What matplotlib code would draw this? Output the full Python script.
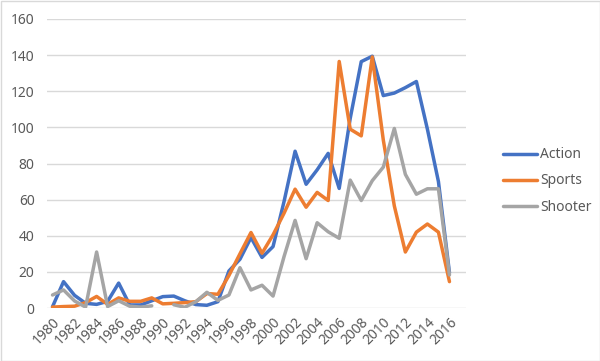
import numpy as np
import matplotlib
matplotlib.use("Agg")
import matplotlib.pyplot as plt
from matplotlib.patches import Rectangle

plt.rcParams['font.family'] = ['Noto Sans', 'DejaVu Sans']

nan = np.nan
years = list(range(1980, 2018))

action = [0.7, 14.6, 7.0, 2.6, 2.0, 3.7, 13.8, 1.7, 1.7, 4.0, 6.3, 6.6, 4.0, 1.9, 1.5, 3.5,
          20.5, 27.0, 39.0, 28.0, 34.0, 59.0, 86.8, 68.5, 76.5, 85.6, 66.2, 105.0, 136.4, 139.4,
          117.6, 119.0, 122.0, 125.4, 99.0, 70.0, 19.5, nan]
sports = [0.5, 0.8, 1.0, 3.0, 6.4, 2.0, 5.6, 3.7, 3.7, 5.6, 2.3, 2.6, 3.0, 3.5, 8.0, 7.6,
          18.0, 30.0, 41.8, 30.3, 40.5, 52.5, 65.8, 55.8, 64.0, 59.5, 136.5, 99.0, 95.3, 139.0,
          93.0, 56.5, 31.0, 42.0, 46.5, 42.0, 14.6, nan]
shooter = [7.2, 10.0, 3.9, 0.5, 31.0, 0.8, 4.0, 1.0, 0.5, 1.2, nan, 1.8, 0.4, 3.5, 8.7, 4.2,
           7.2, 22.3, 10.0, 12.6, 6.6, 28.5, 48.5, 27.3, 47.2, 42.2, 38.6, 70.8, 59.5, 70.5,
           78.0, 99.4, 74.0, 63.0, 66.0, 66.0, 18.3, nan]

series = [("Action", action, "#4472C4"),
          ("Sports", sports, "#ED7D31"),
          ("Shooter", shooter, "#A5A5A5")]

fig = plt.figure(figsize=(6, 3.61), dpi=100)
ax = fig.add_axes([47 / 600, 53 / 361, 419 / 600, 289 / 361])

x = np.arange(len(years))
for name, vals, col in series:
    ax.plot(x, vals, color=col, lw=2.5, label=name, solid_capstyle='round',
            solid_joinstyle='round')

ax.set_xlim(-0.5, len(years) - 0.5)
ax.set_ylim(0, 160)
ax.set_yticks(range(0, 161, 20))
ax.yaxis.grid(True, color="#D9D9D9", lw=1)
ax.set_axisbelow(True)
for s in ax.spines.values():
    s.set_visible(False)

ax.set_xticks(x[::2])
ax.set_xticklabels([str(y) for y in years[::2]], rotation=45, ha='right', va='top',
                   rotation_mode='anchor')
ax.tick_params(axis='both', length=0, labelsize=10, labelcolor="#595959")
ax.tick_params(axis='y', pad=9)
ax.tick_params(axis='x', pad=5)

leg = fig.legend(loc='center left', bbox_to_anchor=(490 / 600, 1 - 181 / 361), frameon=False,
                 fontsize=10, handlelength=2.5, handletextpad=0.2, labelspacing=0.8)
for t in leg.get_texts():
    t.set_color("#595959")

fig.patches.append(Rectangle((0.5 / 600, 0.5 / 361), 1 - 1 / 600, 1 - 1 / 361,
                             transform=fig.transFigure, fill=False, edgecolor="#D9D9D9", lw=1))

fig.savefig("out.png", dpi=100)
